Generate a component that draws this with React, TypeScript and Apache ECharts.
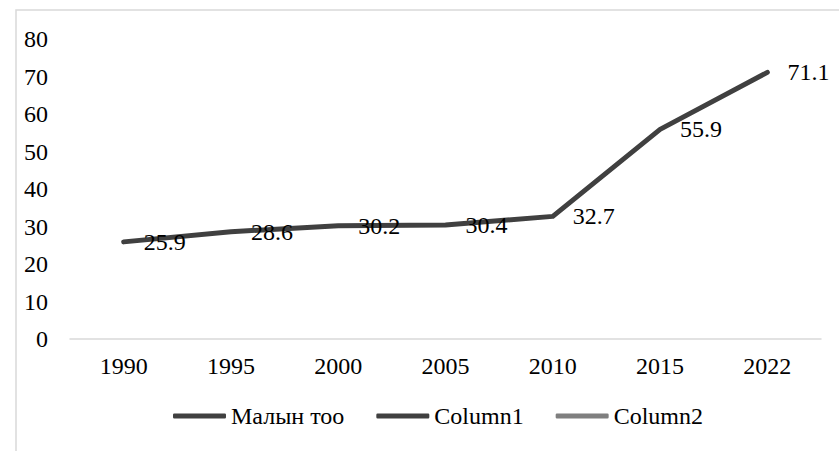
import React, { useEffect, useRef } from "react";
import * as echarts from "echarts";

const categories = ["1990", "1995", "2000", "2005", "2010", "2015", "2022"];
const malynToo = [25.9, 28.6, 30.2, 30.4, 32.7, 55.9, 71.1];
const column1: number[] = [];
const column2: number[] = [];

const FONT = "Liberation Serif";

export default function App() {
  const ref = useRef<HTMLDivElement>(null);
  useEffect(() => {
    document.body.style.margin = "0";
    const chart = echarts.init(ref.current!, null, { renderer: "svg" });
    chart.setOption({
      animation: false,
      backgroundColor: "#ffffff",
      textStyle: { fontFamily: FONT },
      graphic: [
        {
          type: "rect",
          shape: { x: 16, y: 10, width: 900, height: 600 },
          style: { fill: "none", stroke: "#d9d9d9", lineWidth: 1.5 },
          silent: true,
        },
      ],
      grid: { left: 70, right: 18, top: 39, bottom: 112 },
      legend: {
        bottom: 18,
        left: 168,
        itemWidth: 53,
        itemHeight: 5,
        itemGap: 32,
        icon: "roundRect",
        textStyle: { fontFamily: FONT, fontSize: 24, color: "#000" },
        data: ["Малын тоо", "Column1", "Column2"],
      },
      xAxis: {
        type: "category",
        data: categories,
        boundaryGap: true,
        axisLine: { lineStyle: { color: "#d9d9d9", width: 1.5 } },
        axisTick: { show: false },
        axisLabel: { fontFamily: FONT, fontSize: 24, color: "#000", margin: 15 },
      },
      yAxis: {
        type: "value",
        min: 0,
        max: 80,
        interval: 10,
        axisLine: { show: false },
        axisTick: { show: false },
        splitLine: { show: false },
        axisLabel: { fontFamily: FONT, fontSize: 24, color: "#000", margin: 22 },
      },
      series: [
        {
          name: "Малын тоо",
          type: "line",
          data: malynToo,
          showSymbol: true,
          symbol: "circle",
          symbolSize: 0.1,
          color: "#404040",
          lineStyle: { color: "#404040", width: 5, cap: "round", join: "round" },
          label: {
            show: true,
            position: "right",
            distance: 20,
            fontFamily: FONT,
            fontSize: 24,
            color: "#000",
            formatter: (p: any) => p.value.toFixed(1),
          },
        },
        {
          name: "Column1",
          type: "line",
          data: column1,
          symbol: "none",
          color: "#404040",
          lineStyle: { color: "#404040", width: 5 },
        },
        {
          name: "Column2",
          type: "line",
          data: column2,
          symbol: "none",
          color: "#7f7f7f",
          lineStyle: { color: "#7f7f7f", width: 5 },
        },
      ],
    });
    return () => chart.dispose();
  }, []);
  return <div ref={ref} style={{ width: 839, height: 451 }} />;
}
